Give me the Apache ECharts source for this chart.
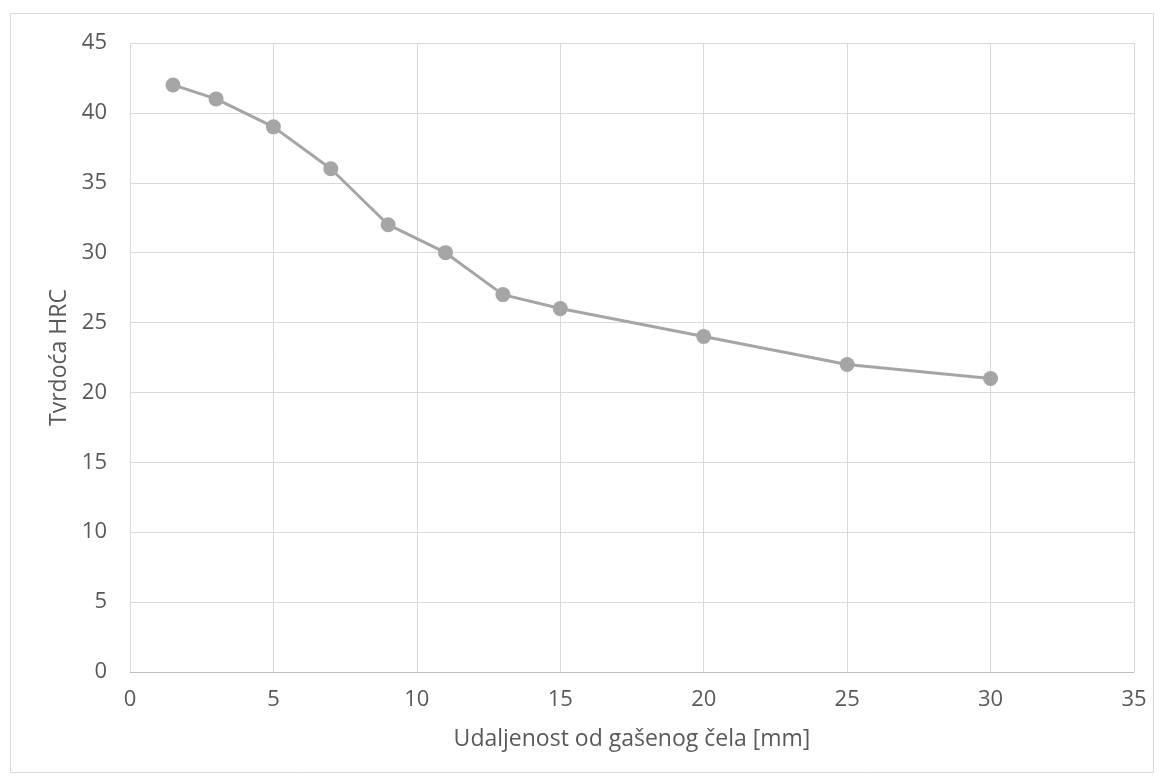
<!DOCTYPE html>
<html><head><meta charset="utf-8">
<script src="https://cdn.jsdelivr.net/npm/echarts@6/dist/echarts.min.js"></script>
<style>html,body{margin:0;padding:0;background:#fff}#c{width:1164px;height:783px}</style>
</head><body><div id="c"></div>
<script>
const xValues = [1.5, 3, 5, 7, 9, 11, 13, 15, 20, 25, 30];
const yValues = [42, 41, 39, 36, 32, 30, 27, 26, 24, 22, 21];
const xName = 'Udaljenost od gašenog čela [mm]';
const yName = 'Tvrdoća HRC';
const font = '"Open Sans", "Liberation Sans", sans-serif';
const chart = echarts.init(document.getElementById('c'));
chart.setOption({
  animation: false,
  backgroundColor: '#fff',
  graphic: [{type:'rect', shape:{x:10.5,y:13.5,width:1143,height:759}, style:{fill:'none', stroke:'#D9D9D9', lineWidth:1}, silent:true}],
  grid: {left:130, right:30, top:43, bottom:111, containLabel:false},
  xAxis: {
    type:'value', min:0, max:35, interval:5,
    name:xName, nameLocation:'middle', nameGap:56,
    nameTextStyle:{color:'#595959', fontSize:23, fontFamily:font},
    axisLine:{show:true, lineStyle:{color:'#BFBFBF', width:1}},
    axisTick:{show:false},
    axisLabel:{color:'#595959', fontSize:22, fontFamily:font, margin:17},
    splitLine:{show:true, lineStyle:{color:'#D9D9D9', width:1}}
  },
  yAxis: {
    type:'value', min:0, max:45, interval:5,
    name:yName, nameLocation:'middle', nameGap:57, nameRotate:90,
    nameTextStyle:{color:'#595959', fontSize:23, fontFamily:font},
    axisLine:{show:true, lineStyle:{color:'#D9D9D9', width:1}},
    axisTick:{show:false},
    axisLabel:{color:'#595959', fontSize:22, fontFamily:font, margin:23},
    splitLine:{show:true, lineStyle:{color:'#D9D9D9', width:1}}
  },
  series: [{
    type:'line',
    data: xValues.map((x,i)=>[x, yValues[i]]),
    symbol:'circle', symbolSize:15,
    lineStyle:{color:'#A5A5A5', width:3},
    itemStyle:{color:'#A5A5A5'}
  }]
});
</script></body></html>
